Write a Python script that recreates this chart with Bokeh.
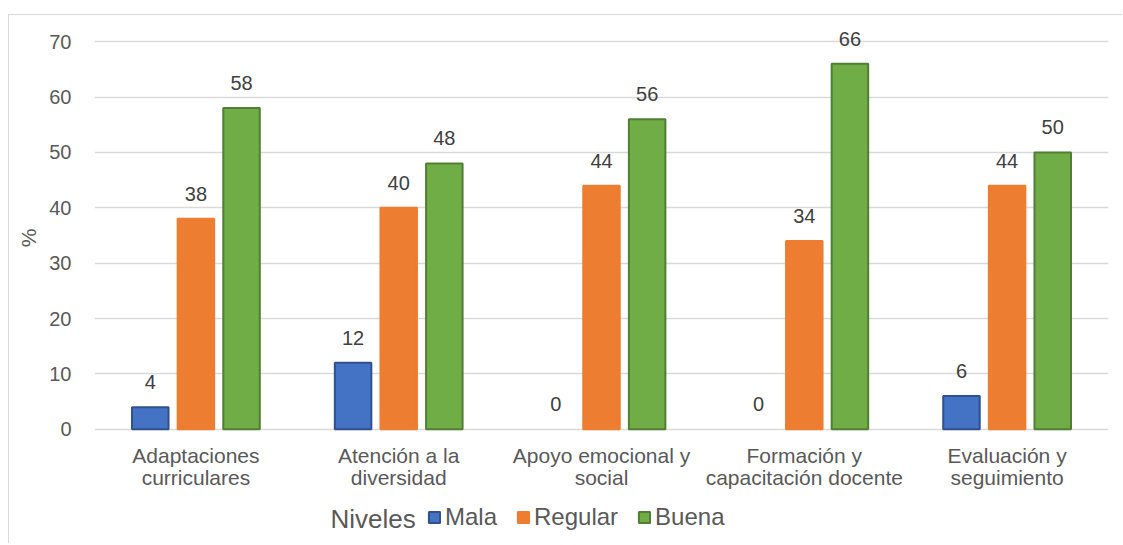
from bokeh.plotting import figure
from bokeh.models import FactorRange, Legend, LegendItem, ColumnDataSource, FixedTicker, Title, Label
from bokeh.transform import dodge
from bokeh.core.properties import value
from bokeh.embed import file_html
from bokeh.resources import INLINE

categories = ["Adaptaciones\ncurriculares", "Atención a la\ndiversidad", "Apoyo emocional y\nsocial",
              "Formación y\ncapacitación docente", "Evaluación y\nseguimiento"]
mala = [4, 12, 0, 0, 6]
regular = [38, 40, 44, 34, 44]
buena = [58, 48, 56, 66, 50]
series_names = ["Mala", "Regular", "Buena"]
legend_title = "Niveles"
y_ticks = [0, 10, 20, 30, 40, 50, 60, 70]

FONT = "Liberation Sans"
data = dict(cat=categories, zero=[0] * len(categories))
for key, vals in (("mala", mala), ("regular", regular), ("buena", buena)):
    data[key] = vals
    data[key + "_t"] = [str(v) for v in vals]
    data[key + "_lw"] = [2 if v else 0 for v in vals]
src = ColumnDataSource(data)

p = figure(x_range=FactorRange(*categories), y_range=(-19.9, 74), width=1114, height=529,
           output_backend="svg", toolbar_location=None, x_axis_location=None,
           min_border_left=85, min_border_right=15, min_border_top=4, min_border_bottom=5)
p.styles = {"margin-left": "8px", "margin-top": "14px",
            "border-top": "1px solid #d9d9d9", "border-left": "1px solid #d9d9d9"}
p.outline_line_color = None
p.background_fill_color = "white"
p.border_fill_color = "white"

off, w = 0.225, 0.18
specs = [("mala", -off, "#4472C4", "#2F528F"), ("regular", 0.0, "#ED7D31", "#ED7D31"),
         ("buena", off, "#70AD47", "#507E32")]
rends = []
for key, o, fc, lc in specs:
    r = p.vbar(x=dodge("cat", o, range=p.x_range), top=key, width=w, source=src,
               fill_color=fc, line_color=lc, line_width=key + "_lw")
    rends.append(r)
    p.text(x=dodge("cat", o, range=p.x_range), y=key, text=key + "_t", source=src,
           text_align="center", text_baseline="middle", y_offset=-25,
           text_font=value(FONT), text_font_size="20px", text_color="#404040")

# category labels (x axis)
p.text(x="cat", y="zero", text="cat", source=src, text_align="center", text_baseline="top",
       y_offset=15, text_line_height=0.95,
       text_font=value(FONT), text_font_size="21px", text_color="#595959")

p.xgrid.grid_line_color = None
p.ygrid.grid_line_color = "#d9d9d9"
p.ygrid.grid_line_width = 1.3
p.yaxis.ticker = FixedTicker(ticks=y_ticks)

ax = p.yaxis[0]
ax.axis_line_color = None
ax.major_tick_line_color = None
ax.minor_tick_line_color = None
ax.major_label_text_font = FONT
ax.major_label_text_color = "#595959"
ax.major_label_text_font_size = "20px"
ax.major_label_standoff = 17

p.add_layout(Title(text="%", align="right", offset=209, vertical_align="middle",
                   text_font=FONT, text_font_size="21px", text_font_style="normal",
                   text_color="#595959", standoff=11), "left")

legend = Legend(items=[LegendItem(label=n, renderers=[r]) for n, r in zip(series_names, rends)],
                orientation="horizontal", location=(333, 8), padding=0, margin=0, spacing=19,
                glyph_width=14, glyph_height=14, label_standoff=4,
                label_text_font=FONT, label_text_font_size="24px", label_text_color="#595959",
                background_fill_alpha=0, border_line_color=None)
p.add_layout(legend, "center")
p.add_layout(Label(x=236, y=21, x_units="screen", y_units="screen", text=legend_title,
                   text_baseline="middle", text_font=FONT, text_font_size="26px",
                   text_color="#595959"))

open("out.html", "w").write(file_html(p, INLINE))
